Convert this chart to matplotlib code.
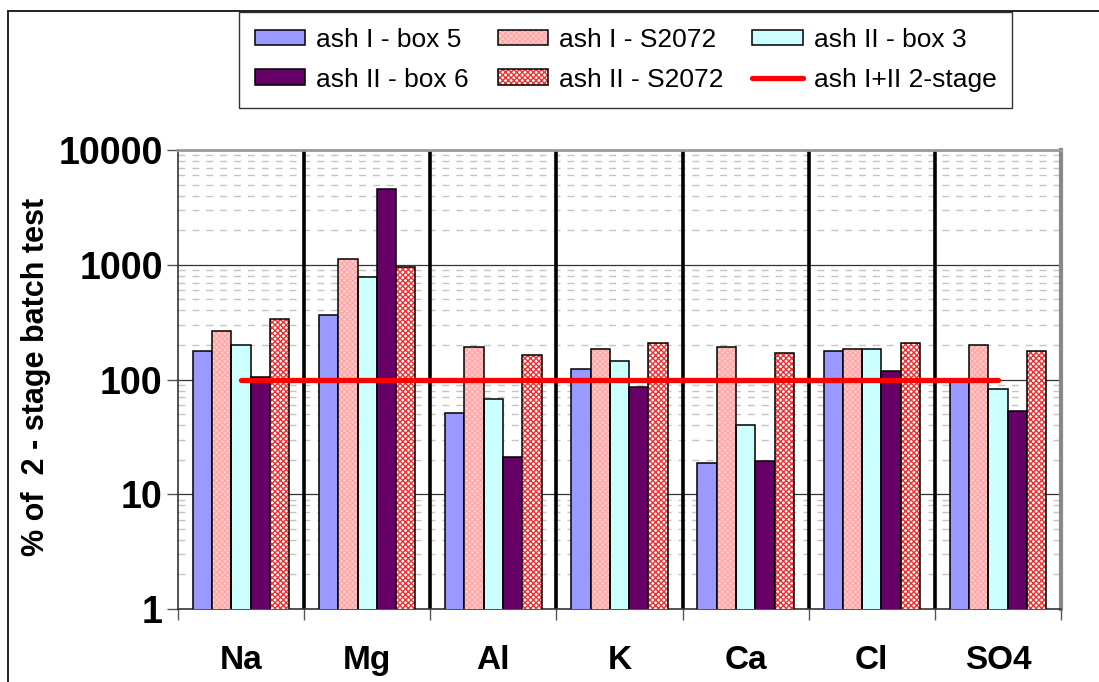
import matplotlib
matplotlib.use("Agg")
import matplotlib.pyplot as plt
import numpy as np
from matplotlib.patches import Rectangle, Patch
from matplotlib.lines import Line2D
from matplotlib.legend_handler import HandlerTuple
from matplotlib.ticker import FixedLocator, NullFormatter

plt.rcParams['font.family'] = ['Liberation Sans', 'DejaVu Sans']

# Leaching results, % of the 2-stage batch test
elements = ["Na", "Mg", "Al", "K", "Ca", "Cl", "SO4"]
ash1_box5 = [177, 365, 51, 123, 18.6, 176, 101]
ash1_s2072 = [265, 1130, 192, 184, 193, 183, 200]
ash2_box3 = [200, 782, 67.6, 145, 39.9, 183, 82]
ash2_box6 = [105, 4570, 21.1, 86, 19.5, 119, 53]
ash2_s2072 = [337, 955, 164, 208, 170, 208, 176]
two_stage_ref = [100, 100, 100, 100, 100, 100, 100]

series_labels = ["ash I - box 5", "ash I - S2072", "ash II - box 3",
                 "ash II - box 6", "ash II - S2072", "ash I+II 2-stage"]
yticks = [1, 10, 100, 1000, 10000]
ytick_labels = ["1", "10", "100", "1000", "10000"]

W, H = 1099, 682
fig = plt.figure(figsize=(W / 100, H / 100), dpi=100)

# outer frame of the chart object
fig.patches.append(Rectangle((8 / W, -0.1), 1.2, 1.1 - 11 / H,
                             transform=fig.transFigure, fill=False,
                             edgecolor="#222222", linewidth=1.4, zorder=0))

ax = fig.add_axes([178 / W, 1 - 609 / H, (1061 - 178) / W, (609 - 150) / H])
ax.set_yscale("log")
ax.set_ylim(1, 10000)
ax.set_xlim(-0.5, len(elements) - 0.5)

x = np.arange(len(elements))
bw = 0.153
edge = dict(edgecolor="black", linewidth=1.1)

S1_FACE, S1_HATCH = "#FFCCCC", "#FFA8A8"
S2_FACE, S2_HATCH = "white", "#F03030"

ax.bar(x - 2 * bw, ash1_box5, bw, color="#9999FF", zorder=3, **edge)
# textured fills: hatch drawn first, then the black outline on top
ax.bar(x - bw, ash1_s2072, bw, facecolor=S1_FACE, hatch="xxxxxx",
       edgecolor=S1_HATCH, linewidth=0, zorder=3)
ax.bar(x - bw, ash1_s2072, bw, fill=False, zorder=3.5, **edge)
ax.bar(x, ash2_box3, bw, color="#CCFFFF", zorder=3, **edge)
ax.bar(x + bw, ash2_box6, bw, color="#660066", zorder=3, **edge)
ax.bar(x + 2 * bw, ash2_s2072, bw, facecolor=S2_FACE, hatch="xxxxxx",
       edgecolor=S2_HATCH, linewidth=0, zorder=3)
ax.bar(x + 2 * bw, ash2_s2072, bw, fill=False, zorder=3.5, **edge)

ax.plot(x, two_stage_ref, color="#FF0000", linewidth=3.8,
        solid_capstyle="round", zorder=5)

# category separators
for b in np.arange(0.5, len(elements) - 0.5, 1.0):
    ax.axvline(b, color="black", linewidth=2.6, zorder=2)

# grid
ax.yaxis.set_major_locator(FixedLocator(yticks))
ax.set_yticklabels(ytick_labels)
minor = [m * 10 ** d for d in range(0, 4) for m in range(2, 10)]
ax.yaxis.set_minor_locator(FixedLocator(minor))
ax.yaxis.set_minor_formatter(NullFormatter())
for v in minor:
    ax.axhline(v, color="#C4C4C4", linewidth=1.0, linestyle=(0, (5, 5)), zorder=1)
for v in yticks[1:-1]:
    ax.axhline(v, color="#333333", linewidth=0.9, zorder=1)

ax.tick_params(axis="y", which="major", length=8, width=1, color="#555555",
               labelsize=27, pad=3)
ax.tick_params(axis="y", which="minor", length=0)
for t in ax.get_yticklabels():
    t.set_fontweight("bold")

ax.set_xticks(x)
ax.set_xticklabels(elements, fontsize=24, fontweight="bold")
ax.tick_params(axis="x", which="major", length=0, pad=26)
ax.xaxis.set_minor_locator(FixedLocator(np.arange(-0.5, len(elements), 1.0)))
ax.tick_params(axis="x", which="minor", length=8, width=1, color="#555555")

ax.set_ylabel("% of  2 - stage batch test", fontsize=22, fontweight="bold")
ax.yaxis.set_label_coords(-0.144, 0.505)

for side in ["left", "bottom"]:
    ax.spines[side].set_color("#333333")
    ax.spines[side].set_linewidth(1.2)
ax.spines["top"].set_color("#999999")
ax.spines["top"].set_linewidth(2)
ax.spines["right"].set_color("#888888")
ax.spines["right"].set_linewidth(3)

outline = dict(fill=False, edgecolor="black", linewidth=1.1)
handles = [
    Patch(facecolor="#9999FF", edgecolor="black", linewidth=1.1),
    Patch(facecolor="#660066", edgecolor="black", linewidth=1.1),
    (Patch(facecolor=S1_FACE, hatch="xxxxxx", edgecolor=S1_HATCH, linewidth=0),
     Patch(**outline)),
    (Patch(facecolor=S2_FACE, hatch="xxxxxx", edgecolor=S2_HATCH, linewidth=0),
     Patch(**outline)),
    Patch(facecolor="#CCFFFF", edgecolor="black", linewidth=1.1),
    Line2D([0], [0], color="#FF0000", linewidth=3.8, solid_capstyle="round"),
]
labels = [series_labels[0], series_labels[3], series_labels[1],
          series_labels[4], series_labels[2], series_labels[5]]
leg = fig.legend(handles, labels, ncol=3, loc="upper left",
                 bbox_to_anchor=(239 / W, 1 - 12 / H), borderaxespad=0,
                 fontsize=19, frameon=True, fancybox=False, edgecolor="black",
                 handler_map={tuple: HandlerTuple(ndivide=1)},
                 handlelength=1.9, handleheight=0.55, handletextpad=0.42,
                 columnspacing=1.1, borderpad=0.6, labelspacing=0.6)
leg.get_frame().set_linewidth(1.0)

fig.savefig("out.png", dpi=100)
